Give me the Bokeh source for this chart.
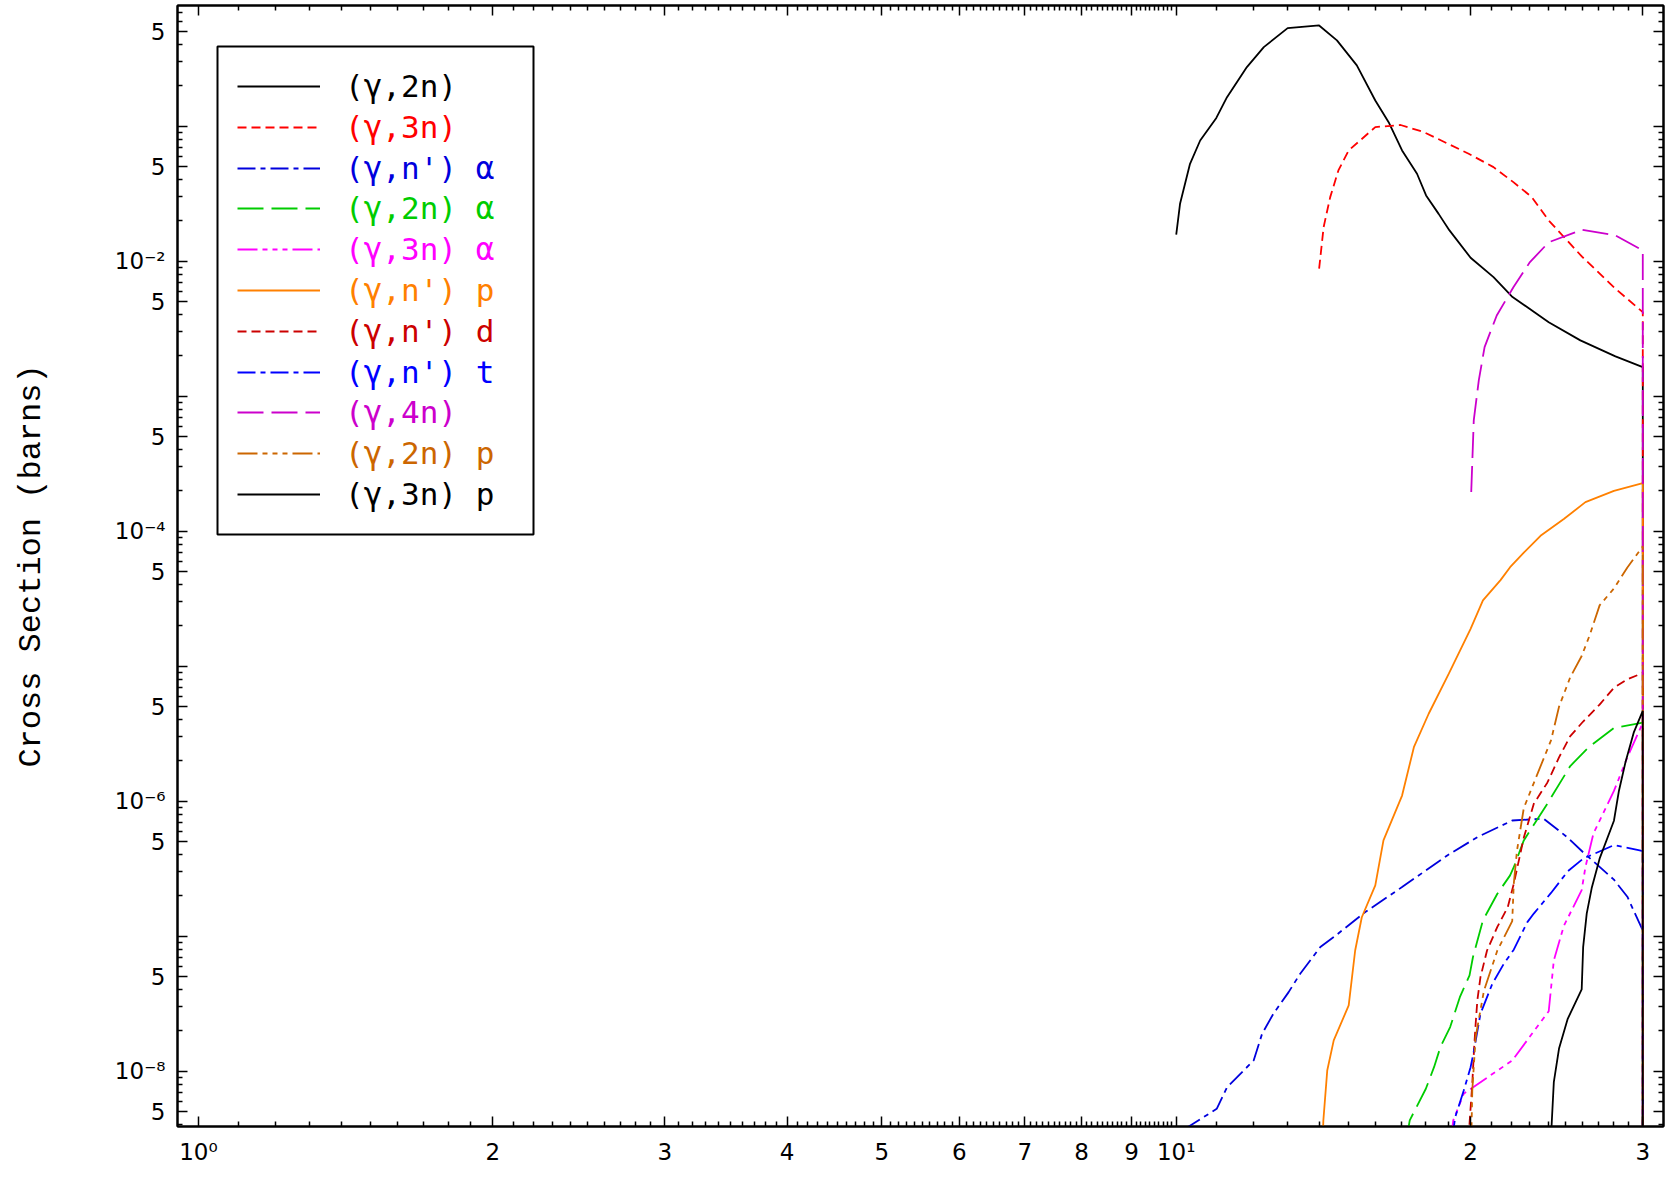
from bokeh.plotting import figure
from bokeh.models import Range1d, LogAxis, FixedTicker, Legend, LegendItem, BoxAnnotation
from bokeh.embed import file_html
from bokeh.resources import INLINE

# ---------------- data (energy in MeV, cross section in barns) ----------------
E_g2n = [10.0, 10.09, 10.33, 10.58, 10.99, 11.27, 11.81, 12.29, 13.0, 14.0, 14.6, 15.3, 15.98,
         16.49, 17.02, 17.63, 18.01, 18.55, 19.03, 20.0, 21.11, 22.04, 24.04, 25.9, 28.13, 30.0, 30.0]
S_g2n = [0.0157, 0.0266, 0.0526, 0.0783, 0.115, 0.164, 0.274, 0.385, 0.532, 0.557, 0.432, 0.282,
         0.155, 0.107, 0.0661, 0.0444, 0.0307, 0.0224, 0.0169, 0.0106, 0.00762, 0.00548, 0.00353,
         0.00259, 0.00197, 0.00164, 1e-12]

E_g3n = [14.0, 14.15, 14.37, 14.65, 15.01, 15.98, 16.96, 17.91, 19.91, 21.11, 22.12, 23.1, 24.04,
         26.0, 28.13, 30.0, 30.0]
S_g3n = [0.00879, 0.0179, 0.0298, 0.047, 0.0661, 0.0984, 0.102, 0.0904, 0.0625, 0.0497, 0.0385,
         0.0298, 0.02, 0.0108, 0.00625, 0.00419, 1e-12]

E_gna = [10.2, 11.0, 11.27, 12.0, 12.24, 12.57, 13.03, 13.39, 14.04, 14.49, 15.61, 17.02, 17.5,
         18.93, 20.32, 22.06, 23.76, 25.14, 26.07, 28.03, 28.93, 30.0, 30.0]
S_gna = [3.72e-9, 5.26e-9, 7.6e-9, 1.2e-8, 1.89e-8, 2.66e-8, 3.85e-8, 5.27e-8, 8.3e-8, 9.84e-8,
         1.51e-7, 2.31e-7, 2.66e-7, 3.96e-7, 5.41e-7, 7.19e-7, 7.41e-7, 5.37e-7, 4.18e-7, 2.62e-7,
         1.96e-7, 1.10e-7, 1e-12]

E_g2na = [17.2, 17.33, 18.0, 18.35, 18.63, 19.06, 19.5, 19.95, 20.11, 20.59, 21.3, 21.95, 22.14,
          22.67, 23.96, 25.29, 26.43, 28.03, 30.0, 30.0]
S_g2na = [3.16e-9, 4.32e-9, 7.41e-9, 1.07e-8, 1.51e-8, 2.12e-8, 3.53e-8, 5.12e-8, 6.98e-8, 1.31e-7,
          2.06e-7, 2.82e-7, 3.24e-7, 5.12e-7, 9.57e-7, 1.82e-6, 2.52e-6, 3.49e-6, 3.81e-6, 1e-12]

E_g3na = [19.1, 19.2, 19.68, 22.06, 24.04, 24.33, 24.91, 25.98, 26.21, 26.71, 28.03, 28.93, 30.0, 30.0]
S_g3na = [3.16e-9, 4.32e-9, 6.81e-9, 1.2e-8, 2.78e-8, 6.61e-8, 1.19e-7, 2.19e-7, 3.25e-7, 5.77e-7,
          1.19e-6, 2.11e-6, 3.81e-6, 1e-12]

E_gnp = [14.05, 14.14, 14.27, 14.49, 15.01, 15.24, 15.48, 15.98, 16.29, 17.02, 17.5, 18.12, 19.0,
         20.0, 20.59, 21.46, 21.95, 22.67, 23.58, 24.91, 26.21, 28.03, 30.0, 30.0]
S_gnp = [1.0e-9, 4.31e-9, 1.01e-8, 1.69e-8, 3.07e-8, 7.83e-8, 1.38e-7, 2.38e-7, 5.12e-7, 1.10e-6,
         2.51e-6, 4.44e-6, 8.79e-6, 1.89e-5, 3.07e-5, 4.34e-5, 5.41e-5, 6.92e-5, 9.23e-5, 1.23e-4,
         1.64e-4, 1.99e-4, 2.27e-4, 1e-12]

E_gnd = [19.9, 20.08, 20.16, 20.24, 20.32, 20.47, 20.79, 21.3, 21.83, 22.14, 22.67, 23.21, 23.96,
         24.63, 25.29, 26.07, 27.1, 28.03, 28.93, 30.0, 30.0]
S_gnd = [3.16e-9, 8.07e-9, 1.42e-8, 2.24e-8, 3.34e-8, 4.97e-8, 7.83e-8, 1.17e-7, 1.64e-7, 2.44e-7,
         5.37e-7, 9.57e-7, 1.37e-6, 2.11e-6, 3.03e-6, 3.89e-6, 5.19e-6, 6.92e-6, 7.98e-6, 8.91e-6, 1e-12]

E_gnt = [19.15, 19.29, 19.68, 20.0, 20.16, 20.47, 21.05, 21.63, 22.14, 22.86, 23.21, 24.17, 25.14,
         26.07, 28.03, 29.7, 30.0, 30.0]
S_gnt = [3.16e-9, 4.57e-9, 7.19e-9, 1.07e-8, 1.42e-8, 2.66e-8, 4.44e-8, 6.25e-8, 7.94e-8, 1.27e-7,
         1.47e-7, 2.09e-7, 3.02e-7, 3.75e-7, 4.72e-7, 4.34e-7, 4.27e-7, 1e-12]

E_g4n = [20.03, 20.15, 20.39, 20.67, 21.27, 22.12, 23.0, 24.04, 26.0, 28.13, 30.0, 30.0]
S_g4n = [1.95e-4, 6.61e-4, 1.31e-3, 2.31e-3, 3.96e-3, 6.41e-3, 9.84e-3, 1.38e-2, 1.71e-2, 1.55e-2,
         1.2e-2, 1e-12]

E_g2np = [20.02, 20.08, 20.24, 20.64, 21.3, 22.06, 22.14, 22.31, 22.67, 23.4, 24.17, 24.63, 25.29,
          25.98, 26.48, 27.1, 28.03, 28.93, 30.0, 30.0]
S_g2np = [2.51e-9, 7.19e-9, 1.79e-8, 3.95e-8, 7.83e-8, 1.29e-7, 2.44e-7, 4.31e-7, 8.89e-7, 1.58e-6,
          2.82e-6, 5.01e-6, 8.28e-6, 1.19e-5, 1.70e-5, 2.82e-5, 3.76e-5, 5.38e-5, 7.71e-5, 1e-12]

E_g3np = [24.15, 24.2, 24.33, 24.63, 25.14, 25.98, 26.07, 26.29, 26.6, 27.1, 28.03, 28.36, 28.81,
          29.38, 30.0, 30.0]
S_g3np = [2.0e-9, 3.89e-9, 8.28e-9, 1.47e-8, 2.44e-8, 4.03e-8, 8.28e-8, 1.47e-7, 2.27e-7, 3.75e-7,
          7.16e-7, 1.19e-6, 1.96e-6, 3.25e-6, 4.66e-6, 1e-12]

labels = ["(γ,2n)", "(γ,3n)", "(γ,n') α", "(γ,2n) α", "(γ,3n) α", "(γ,n') p",
          "(γ,n') d", "(γ,n') t", "(γ,4n)", "(γ,2n) p", "(γ,3n) p"]
energies = [E_g2n, E_g3n, E_gna, E_g2na, E_g3na, E_gnp, E_gnd, E_gnt, E_g4n, E_g2np, E_g3np]
sigmas = [S_g2n, S_g3n, S_gna, S_g2na, S_g3na, S_gnp, S_gnd, S_gnt, S_g4n, S_g2np, S_g3np]

x_major = [1, 2, 3, 4, 5, 6, 7, 8, 9, 10, 20, 30]
x_tick_text = ["10⁰", "2", "3", "4", "5", "6", "7", "8", "9", "10¹", "2", "3"]
y_even_labels = {1e-2: "10⁻²", 1e-4: "10⁻⁴", 1e-6: "10⁻⁶", 1e-8: "10⁻⁸"}

# ---------------- styles ----------------
colors = ["#000000", "#ff0000", "#0000dd", "#00cc00", "#ff00ff", "#ff8000",
          "#cc0000", "#0000ff", "#cc00cc", "#cc6600", "#000000"]
SOLID, DASH, DASHDOT, LONG, DASH3DOT = "solid", "9 5", "18 5 5 5", "26 8", "20 5 5 5 5 5 5 5"
dashes = [SOLID, DASH, DASHDOT, LONG, DASH3DOT, SOLID, DASH, DASHDOT, LONG, DASH3DOT, SOLID]

p = figure(width=1665, height=1189, x_axis_type="log", y_axis_type="log",
           x_range=Range1d(0.952, 31.5), y_range=Range1d(3.89e-9, 0.783),
           output_backend="svg", toolbar_location=None,
           min_border_left=177, min_border_right=2, min_border_top=5, min_border_bottom=63)
p.xgrid.visible = False
p.ygrid.visible = False
p.outline_line_color = "black"
p.outline_line_width = 2

x_minor = [i + j / 10 for i in range(1, 10) for j in range(1, 10)] + \
          [float(v) for v in range(11, 20)] + [float(v) for v in range(21, 30)]
y_major = []
y_minor = []
for k in range(-9, 1):
    y_major.append(float(f"1e{k}"))
    y_major.append(float(f"5e{k}"))
    for m in (2, 3, 4, 6, 7, 8, 9):
        y_minor.append(float(f"{m}e{k}"))

x_over = {t: s for t, s in zip(x_major, x_tick_text)}
y_over = {}
for t in y_major:
    if t in y_even_labels:
        y_over[t] = y_even_labels[t]
    elif f"{t:.0e}".startswith("5"):
        y_over[t] = "5"
    else:
        y_over[t] = ""

def style_axis(ax):
    ax.major_tick_in = 10
    ax.major_tick_out = 0
    ax.minor_tick_in = 5
    ax.minor_tick_out = 0
    ax.axis_line_width = 2
    ax.major_tick_line_width = 1.5
    ax.minor_tick_line_width = 1.5
    ax.axis_line_color = "black"
    ax.major_tick_line_color = "black"
    ax.minor_tick_line_color = "black"

xa = p.xaxis[0]
xa.ticker = FixedTicker(ticks=x_major, minor_ticks=x_minor)
xa.major_label_overrides = x_over
xa.major_label_text_font = "DejaVu Sans"
xa.major_label_text_font_size = "23px"
xa.major_label_text_color = "black"
xa.major_label_standoff = 12
style_axis(xa)

ya = p.yaxis[0]
ya.ticker = FixedTicker(ticks=y_major, minor_ticks=y_minor)
ya.major_label_overrides = y_over
ya.major_label_text_font = "DejaVu Sans"
ya.major_label_text_font_size = "23px"
ya.major_label_text_color = "black"
ya.major_label_standoff = 12
ya.axis_label = "Cross Section (barns)"
ya.axis_label_text_font = "Liberation Mono"
ya.axis_label_text_font_size = "32px"
ya.axis_label_text_font_style = "normal"
ya.axis_label_text_color = "black"
ya.axis_label_standoff = 62
style_axis(ya)

top = LogAxis(ticker=FixedTicker(ticks=x_major, minor_ticks=x_minor),
              major_label_overrides={t: "" for t in x_major},
              major_label_text_font_size="1px", major_label_standoff=0)
style_axis(top)
p.add_layout(top, "above")
right = LogAxis(ticker=FixedTicker(ticks=y_major, minor_ticks=y_minor),
                major_label_overrides={t: "" for t in y_major},
                major_label_text_font_size="1px", major_label_standoff=0)
style_axis(right)
p.add_layout(right, "right")

renderers = []
for E, S, c, d in zip(energies, sigmas, colors, dashes):
    r = p.line(E, S, line_color=c, line_width=1.8, line_dash=d)
    renderers.append(r)

# ---------------- legend (one entry per row so each label keeps its colour) ----------------
row_top = 1040
row_step = 40.8
for i, (lab, r, c) in enumerate(zip(labels, renderers, colors)):
    yc = row_top - i * row_step
    leg = Legend(items=[LegendItem(label=lab, renderers=[r])], location=(60, yc - 20),
                 padding=0, margin=0, spacing=0, glyph_width=83, glyph_height=40,
                 label_height=40, label_standoff=25, label_text_font="DejaVu Sans Mono",
                 label_text_font_size="31px", label_text_color=c,
                 background_fill_alpha=0, border_line_alpha=0)
    p.add_layout(leg)

box = BoxAnnotation(left=40, right=356, bottom=592, top=1080,
                    left_units="screen", right_units="screen",
                    top_units="screen", bottom_units="screen",
                    fill_color=None, fill_alpha=0, line_color="black",
                    line_alpha=1, line_width=2)
p.add_layout(box)

open("out.html", "w").write(file_html(p, INLINE))
